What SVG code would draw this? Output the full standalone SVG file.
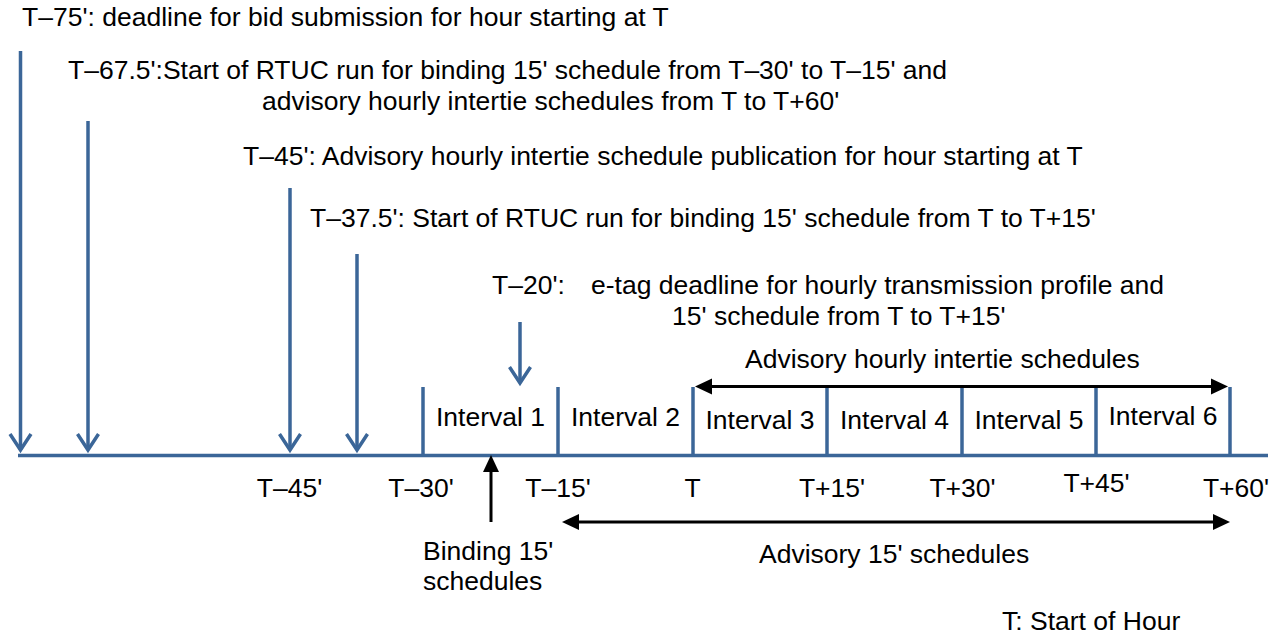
<svg xmlns="http://www.w3.org/2000/svg" width="1283" height="634" viewBox="0 0 1283 634">
  <style>
    .t { font-family: "Liberation Sans", Arial, sans-serif; font-size: 26.5px; fill: #000; }
    .m { text-anchor: middle; }
    .blue { stroke: #3B6698; stroke-width: 3.5; fill: none; }
    .blk { stroke: #000; stroke-width: 3; fill: none; }
  </style>
  <defs>
    <!-- open V head used by the blue event arrows -->
    <marker id="vhead" markerUnits="userSpaceOnUse" markerWidth="24" markerHeight="26" orient="auto" overflow="visible">
      <path d="M-16,-10.5 L0,0 L-16,10.5" stroke="#3B6698" stroke-width="3.5" fill="none"/>
    </marker>
    <!-- solid black head for the span arrows -->
    <marker id="solid" markerUnits="userSpaceOnUse" markerWidth="20" markerHeight="20" orient="auto-start-reverse" overflow="visible">
      <path d="M-9,-8 L8,0 L-9,8 Z" fill="#000"/>
    </marker>
  </defs>

  <rect width="1283" height="634" fill="#fff"/>

  <!-- time axis and interval boundaries -->
  <g id="axis">
    <line class="blue" x1="18" y1="455.5" x2="1268" y2="455.5"/>
    <line class="blue" x1="423" y1="387" x2="423" y2="455.5"/>
    <line class="blue" x1="558" y1="387" x2="558" y2="455.5"/>
    <line class="blue" x1="693" y1="387" x2="693" y2="455.5"/>
    <line class="blue" x1="827" y1="387" x2="827" y2="455.5"/>
    <line class="blue" x1="962" y1="387" x2="962" y2="455.5"/>
    <line class="blue" x1="1096" y1="387" x2="1096" y2="455.5"/>
    <line class="blue" x1="1230" y1="387" x2="1230" y2="455.5"/>
  </g>

  <!-- event arrows and span arrows -->
  <g id="connectors">
    <line class="blue" x1="20.5" y1="51" x2="20.5" y2="450" marker-end="url(#vhead)"/>
    <line class="blue" x1="88" y1="121" x2="88" y2="450" marker-end="url(#vhead)"/>
    <line class="blue" x1="290" y1="188" x2="290" y2="450" marker-end="url(#vhead)"/>
    <line class="blue" x1="357" y1="254" x2="357" y2="450" marker-end="url(#vhead)"/>
    <line class="blue" x1="520" y1="322" x2="520" y2="383" marker-end="url(#vhead)"/>
    <line class="blk" x1="491" y1="522" x2="491" y2="463" marker-end="url(#solid)"/>
    <line class="blk" x1="703" y1="386.5" x2="1220" y2="386.5" marker-start="url(#solid)" marker-end="url(#solid)"/>
    <line class="blk" x1="570" y1="522" x2="1222" y2="522" marker-start="url(#solid)" marker-end="url(#solid)"/>
  </g>

  <g id="ev-t75">
    <text class="t" x="22" y="26">T–75': deadline for bid submission for hour starting at T</text>
  </g>
  <g id="ev-t67">
    <text class="t" x="68" y="79">T–67.5':Start of RTUC run for binding 15' schedule from T–30' to T–15' and</text>
    <text class="t" x="262" y="110">advisory hourly intertie schedules from T to T+60'</text>
  </g>
  <g id="ev-t45">
    <text class="t" x="243" y="165">T–45': Advisory hourly intertie schedule publication for hour starting at T</text>
  </g>
  <g id="ev-t37">
    <text class="t" x="310" y="227">T–37.5': Start of RTUC run for binding 15' schedule from T to T+15'</text>
  </g>
  <g id="ev-t20">
    <text class="t" x="492" y="294">T–20':</text>
    <text class="t" x="591" y="294">e-tag deadline for hourly transmission profile and</text>
    <text class="t" x="672" y="325">15' schedule from T to T+15'</text>
  </g>

  <g id="span-hourly">
    <text class="t" x="745" y="368">Advisory hourly intertie schedules</text>
  </g>

  <g id="intervals">
    <text class="t m" x="490.5" y="426">Interval 1</text>
    <text class="t m" x="625.5" y="426">Interval 2</text>
    <text class="t m" x="760" y="429">Interval 3</text>
    <text class="t m" x="894.5" y="429">Interval 4</text>
    <text class="t m" x="1029" y="429">Interval 5</text>
    <text class="t m" x="1163" y="425">Interval 6</text>
  </g>

  <g id="ticks">
    <text class="t m" x="289.5" y="497">T–45'</text>
    <text class="t m" x="421" y="497">T–30'</text>
    <text class="t m" x="558" y="497">T–15'</text>
    <text class="t m" x="692.5" y="497">T</text>
    <text class="t m" x="832" y="497">T+15'</text>
    <text class="t m" x="962.5" y="497">T+30'</text>
    <text class="t m" x="1096.5" y="492">T+45'</text>
    <text class="t m" x="1236" y="497">T+60'</text>
  </g>

  <g id="span-binding">
    <text class="t" x="423" y="560">Binding 15'</text>
    <text class="t" x="423" y="590">schedules</text>
  </g>
  <g id="span-advisory">
    <text class="t" x="759" y="563">Advisory 15' schedules</text>
  </g>
  <g id="legend">
    <text class="t" x="1002" y="630">T: Start of Hour</text>
  </g>
</svg>
